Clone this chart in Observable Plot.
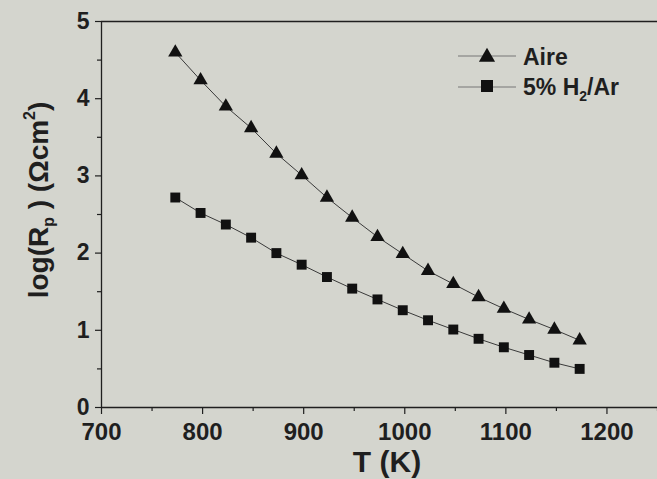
<!DOCTYPE html>
<html>
<head>
<meta charset="utf-8">
<script src="https://cdn.jsdelivr.net/npm/d3@7"></script>
<script src="https://cdn.jsdelivr.net/npm/@observablehq/plot@0.6"></script>
<style>
  html, body { margin: 0; padding: 0; background: #d4d5ce; }
  #wrap { position: relative; width: 657px; height: 479px; overflow: hidden; }
  #legend { position: absolute; left: 452px; top: 42px; }
</style>
</head>
<body>
<div id="wrap"></div>
<script>
const temps = [773, 798, 823, 848, 873, 898, 923, 948, 973, 998, 1023, 1048, 1073, 1098, 1123, 1148, 1173];
const aire  = [4.60, 4.24, 3.90, 3.62, 3.29, 3.01, 2.72, 2.46, 2.21, 1.99, 1.77, 1.60, 1.43, 1.28, 1.14, 1.01, 0.87];
const h2ar  = [2.72, 2.52, 2.37, 2.20, 2.00, 1.85, 1.69, 1.54, 1.40, 1.26, 1.13, 1.01, 0.89, 0.78, 0.68, 0.58, 0.50];
const xTicks = [700, 800, 900, 1000, 1100, 1200];
const xMinor = [750, 850, 950, 1050, 1150, 1250];
const yTicks = [0, 1, 2, 3, 4, 5];
const yMinor = [0.5, 1.5, 2.5, 3.5, 4.5];
const seriesNames = ["Aire", "5% H₂/Ar"];

const dA = temps.map((t, i) => ({T: t, v: aire[i]}));
const dH = temps.map((t, i) => ({T: t, v: h2ar[i]}));

const ink = "#1f1f1f";
const font = "'Liberation Sans', Arial, sans-serif";
const fmt = d3.format("d");

const chart = Plot.plot({
  width: 657,
  height: 479,
  marginLeft: 101,
  marginRight: 0,
  marginTop: 21,
  marginBottom: 72,
  style: {background: "#d4d5ce", fontFamily: font, fontWeight: "bold", color: ink},
  x: {domain: [700, 1250]},
  y: {domain: [0, 5]},
  marks: [
    Plot.ruleY([5], {stroke: ink, strokeWidth: 1.3}),
    Plot.axisY(yTicks, {tickSize: 6, tickPadding: 6, fontSize: 23, tickFormat: fmt, stroke: ink, fill: ink, label: null, strokeWidth: 1.2}),
    Plot.axisY(yMinor, {tickSize: 4, text: null, stroke: ink, label: null, strokeWidth: 1.2}),
    Plot.axisX(xTicks, {tickSize: 7, tickPadding: 8, fontSize: 24, tickFormat: fmt, stroke: ink, fill: ink, label: null, strokeWidth: 1.2}),
    Plot.axisX(xMinor, {tickSize: 4, text: null, stroke: ink, label: null, strokeWidth: 1.2}),
    Plot.ruleX([700], {stroke: ink, strokeWidth: 1.3}),
    Plot.ruleY([0], {stroke: ink, strokeWidth: 1.3}),
    Plot.line(dA, {x: "T", y: "v", stroke: "#3a3a3a", strokeWidth: 1}),
    Plot.line(dH, {x: "T", y: "v", stroke: "#3a3a3a", strokeWidth: 1}),
    Plot.dot(dA, {x: "T", y: "v", symbol: "triangle", r: 5.3, fill: "#111", stroke: "none"}),
    Plot.dot(dH, {x: "T", y: "v", symbol: "square", r: 5.6, fill: "#111", stroke: "none"})
  ]
});

const wrap = document.getElementById("wrap");
wrap.appendChild(chart);

const svg = d3.select(chart);
// X axis title
svg.append("text")
  .attr("x", 387).attr("y", 472)
  .attr("text-anchor", "middle")
  .attr("font-family", font).attr("font-weight", "bold").attr("font-size", 30)
  .attr("fill", ink)
  .text("T (K)");
// Y axis title with sub/superscript
const yt = svg.append("text")
  .attr("transform", "translate(48,200) rotate(-90)")
  .attr("text-anchor", "middle")
  .attr("font-family", font).attr("font-weight", "bold").attr("font-size", 28)
  .attr("fill", ink);
yt.append("tspan").text("log(R");
yt.append("tspan").attr("font-size", 16).attr("dy", 6).text("p");
yt.append("tspan").attr("dy", -6).text(" ) (Ωcm");
yt.append("tspan").attr("font-size", 16).attr("dy", -13).text("2");
yt.append("tspan").attr("dy", 13).text(")");

// Legend
const leg = document.createElement("div");
leg.id = "legend";
leg.innerHTML = `
<svg width="200" height="70" style="overflow:visible;font-family:${font};font-weight:bold">
  <line x1="6" x2="64" y1="14" y2="14" stroke="#777" stroke-width="1"/>
  <path d="${d3.symbol(d3.symbolTriangle, Math.PI*6*6)()}" transform="translate(35,15)" fill="#111"/>
  <text x="71" y="23" font-size="23" fill="${ink}">${seriesNames[0]}</text>
  <line x1="6" x2="64" y1="45" y2="45" stroke="#777" stroke-width="1"/>
  <rect x="29" y="38" width="12" height="12" fill="#111"/>
  <text x="71" y="53" font-size="23" fill="${ink}">5% H<tspan font-size="14" dy="6">2</tspan><tspan dy="-6">/Ar</tspan></text>
</svg>`;
wrap.appendChild(leg);
</script>
</body>
</html>
